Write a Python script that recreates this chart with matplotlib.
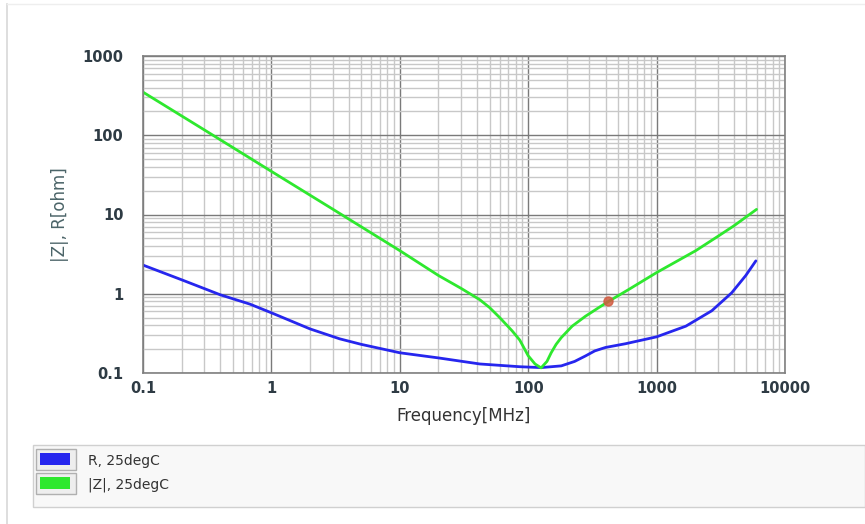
import matplotlib.pyplot as plt
from matplotlib.patches import Rectangle
from matplotlib.ticker import LogLocator, FixedLocator, FixedFormatter, NullFormatter

# data (frequency in MHz, impedance in ohm)
freq_z = [0.1, 0.3, 1, 3, 10, 20, 30, 42, 50, 60, 75, 86, 100, 113, 126, 140, 151, 165, 181, 220, 279, 350,
          422, 600, 1000, 2020, 3000, 4000, 6000]
z_vals = [350, 117, 35, 11.7, 3.5, 1.7, 1.17, 0.84, 0.67, 0.5, 0.34, 0.26, 0.165, 0.13, 0.116, 0.14, 0.18, 0.23,
          0.28, 0.39, 0.52, 0.66, 0.80, 1.12, 1.85, 3.5, 5.3, 7.2, 11.6]

freq_r = [0.1, 0.2, 0.4, 0.68, 1, 2, 3.4, 5, 10, 20, 42, 86, 126, 181, 230, 279, 330, 400, 572,
          1000, 1690, 2690, 3850, 4950, 5930]
r_vals = [2.3, 1.5, 0.97, 0.74, 0.575, 0.36, 0.27, 0.23, 0.18, 0.155, 0.13, 0.12, 0.117, 0.123, 0.14,
          0.164, 0.19, 0.21, 0.234, 0.286, 0.39, 0.61, 1.03, 1.7, 2.6]

marker_f = [422]
marker_z = [0.80]

x_ticks = [0.1, 1, 10, 100, 1000, 10000]
x_labels = ['0.1', '1', '10', '100', '1000', '10000']
y_ticks = [0.1, 1, 10, 100, 1000]
y_labels = ['0.1', '1', '10', '100', '1000']

legend_names = ['R, 25degC', '|Z|, 25degC']
blue = '#2626ee'
green = '#2ee82e'
txt_col = '#2e3b44'

fig = plt.figure(figsize=(8.65, 5.24), dpi=100)
fig.patch.set_facecolor('white')
ax = fig.add_axes([143 / 865, 1 - 373 / 524, (785 - 143) / 865, (373 - 56) / 524])

ax.set_xscale('log')
ax.set_yscale('log')
ax.set_xlim(0.1, 10000)
ax.set_ylim(0.1, 1000)

ax.plot(freq_r, r_vals, color=blue, lw=2.0, solid_capstyle='round', solid_joinstyle='round')
ax.plot(freq_z, z_vals, color=green, lw=2.0, solid_capstyle='round', solid_joinstyle='round')
ax.plot(marker_f, marker_z, 'o', color='#d05a40', ms=6.5, alpha=0.85)

# grid
ax.xaxis.set_major_locator(FixedLocator(x_ticks))
ax.xaxis.set_major_formatter(FixedFormatter(x_labels))
ax.yaxis.set_major_locator(FixedLocator(y_ticks))
ax.yaxis.set_major_formatter(FixedFormatter(y_labels))
ax.xaxis.set_minor_locator(LogLocator(base=10, subs=range(2, 10), numticks=20))
ax.yaxis.set_minor_locator(LogLocator(base=10, subs=range(2, 10), numticks=20))
ax.xaxis.set_minor_formatter(NullFormatter())
ax.yaxis.set_minor_formatter(NullFormatter())
ax.grid(which='major', color='#7a7a7a', lw=1.0)
ax.grid(which='minor', color='#c8c8c8', lw=1.0)
ax.set_axisbelow(True)
ax.tick_params(which='both', length=0)
ax.tick_params(axis='x', pad=6, labelsize=10.5, labelcolor=txt_col)
ax.tick_params(axis='y', pad=14, labelsize=10.5, labelcolor=txt_col)
for lab in ax.get_xticklabels() + ax.get_yticklabels():
    lab.set_fontweight('bold')
for s in ax.spines.values():
    s.set_color('#808080')
    s.set_linewidth(1.2)

ax.set_xlabel('Frequency[MHz]', fontsize=12, color='#333333', labelpad=8)
ax.set_ylabel('|Z|, R[ohm]', fontsize=12, color='#4b6468', labelpad=10)

# outer frame line on the left
fig.add_artist(plt.Line2D([7 / 865, 7 / 865], [0, 1 - 4 / 524], color='#d8d8d8', lw=1.2))
fig.add_artist(plt.Line2D([7 / 865, 1], [1 - 4 / 524, 1 - 4 / 524], color='#eeeeee', lw=1.0))

# legend panel
fig.add_artist(Rectangle((33 / 865, 1 - 507 / 524), (865 - 33) / 865, 62 / 524,
                         transform=fig.transFigure, facecolor='#f8f8f8', edgecolor='#d0d0d0', lw=1))
for i, (name, col) in enumerate(zip(legend_names, [blue, green])):
    top = 449 + i * 24
    fig.add_artist(Rectangle((36 / 865, 1 - (top + 21) / 524), 40 / 865, 21 / 524,
                             transform=fig.transFigure, facecolor='#eeeeee', edgecolor='#b0b0b0', lw=1))
    fig.add_artist(Rectangle((40 / 865, 1 - (top + 16) / 524), 30 / 865, 12 / 524,
                             transform=fig.transFigure, facecolor=col, edgecolor='none'))
    fig.text(88 / 865, 1 - (top + 12) / 524, name, fontsize=10, color='#333333', va='center', ha='left')

fig.savefig('out.png', dpi=100)
